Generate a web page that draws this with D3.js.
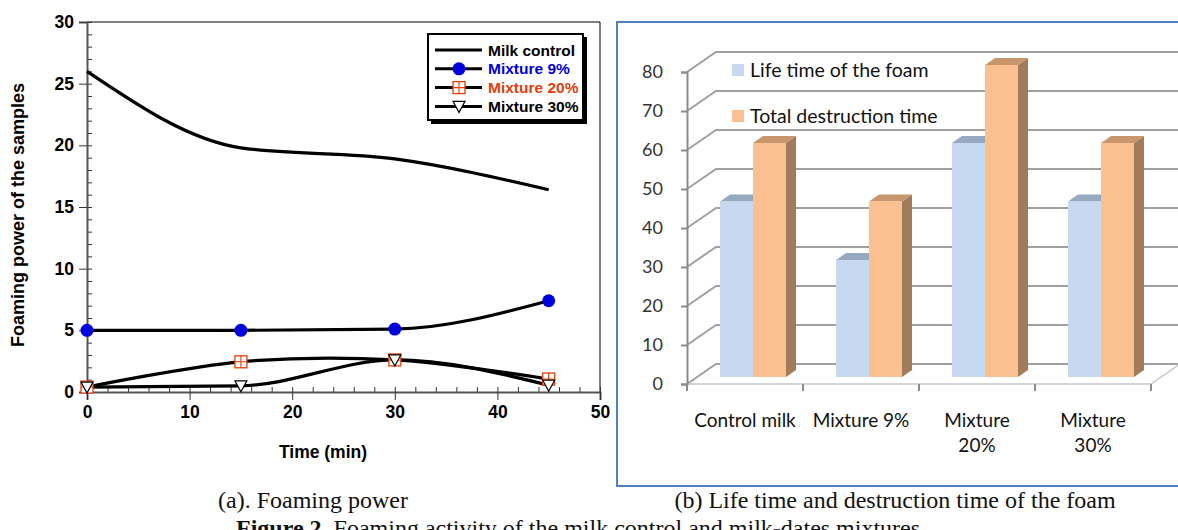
<!DOCTYPE html>
<html>
<head>
<meta charset="utf-8">
<script src="https://cdn.jsdelivr.net/npm/d3@7"></script>
<style>
  body { margin: 0; background: #fff; }
  svg { display: block; }
  .lt text { font-family: "Liberation Sans", Arial, sans-serif; font-weight: bold; }
  .rt text { font-family: Lato, "Open Sans", sans-serif; }
  .cap { font-family: "Liberation Serif", serif; font-size: 24px; fill: #111; }
</style>
</head>
<body>
<svg width="1178" height="530"></svg>
<script>
// ---- panel (a) data
var times = [0, 15, 30, 45];
var milkControl = [26, 19.8, 18.9, 16.4];
var mix9 = [5, 5, 5.1, 7.4];
var mix20 = [0.4, 2.45, 2.6, 1.05];
var mix30 = [0.4, 0.5, 2.6, 0.55];
var xTicks = [0, 10, 20, 30, 40, 50];
var yTicks = [0, 5, 10, 15, 20, 25, 30];

// ---- panel (b) data
var categories = [["Control milk"], ["Mixture 9%"], ["Mixture", "20%"], ["Mixture", "30%"]];
var lifeTime = [45, 30, 60, 45];
var destructionTime = [60, 45, 80, 60];
var barTicks = [0, 10, 20, 30, 40, 50, 60, 70, 80];

var svg = d3.select("svg");

// =============== (a) Foaming power ===============
var left = svg.append("g").attr("class", "lt");

var x = d3.scaleLinear().domain([0, 50]).range([87, 600]);
var y = d3.scaleLinear().domain([0, 30]).range([392, 22]);

// frame
left.append("path")
	.attr("d", "M" + x(0) + "," + y(30) + "H" + x(50) + "V" + y(0))
	.attr("fill", "none").attr("stroke", "#000").attr("stroke-width", 1);

// minor ticks (inward)
left.append("g")
	.attr("transform", "translate(" + x(0) + ",0)")
	.call(d3.axisRight(y).tickValues(d3.range(0, 31, 1)).tickSize(5).tickFormat(""))
	.call(function(g) { g.select(".domain").remove(); g.selectAll("line").attr("stroke", "#333"); });
left.append("g")
	.attr("transform", "translate(0," + y(0) + ")")
	.call(d3.axisTop(x).tickValues(d3.range(0, 51, 2)).tickSize(5).tickFormat(""))
	.call(function(g) { g.select(".domain").remove(); g.selectAll("line").attr("stroke", "#333"); });

// major axes
var yAx = left.append("g")
	.attr("transform", "translate(" + x(0) + ",0)")
	.call(d3.axisLeft(y).tickValues(yTicks).tickSize(8).tickPadding(5));
var xAx = left.append("g")
	.attr("transform", "translate(0," + y(0) + ")")
	.call(d3.axisBottom(x).tickValues(xTicks).tickSize(8).tickPadding(6));
[yAx, xAx].forEach(function(g) {
	g.select(".domain").attr("stroke", "#555").attr("stroke-width", 2);
	g.selectAll("line").attr("stroke", "#333");
	g.selectAll("text").attr("font-size", 17.5).attr("fill", "#000")
		.attr("font-family", "Liberation Sans, Arial, sans-serif").attr("font-weight", "bold");
});

left.append("text")
	.attr("transform", "translate(24,215) rotate(-90)")
	.attr("text-anchor", "middle")
	.attr("font-size", 18)
	.text("Foaming power of the samples");
left.append("text")
	.attr("x", 323).attr("y", 458)
	.attr("text-anchor", "middle")
	.attr("font-size", 17.5)
	.text("Time (min)");

var series = [
	{ name: "Milk control", values: milkControl, color: "#000", marker: "none", curve: d3.curveMonotoneX },
	{ name: "Mixture 9%", values: mix9, color: "#0000dd", marker: "circle", curve: d3.curveMonotoneX },
	{ name: "Mixture 20%", values: mix20, color: "#e0400c", marker: "square", curve: d3.curveCatmullRom },
	{ name: "Mixture 30%", values: mix30, color: "#000", marker: "triangle", curve: d3.curveMonotoneX }
];

series.forEach(function(s) {
	var line = d3.line()
		.x(function(d, i) { return x(times[i]); })
		.y(function(d) { return y(d); })
		.curve(s.curve);
	left.append("path")
		.attr("d", line(s.values))
		.attr("fill", "none")
		.attr("stroke", "#000")
		.attr("stroke-width", 3.2);
});

function drawMarker(g, type, cx, cy) {
	if (type === "circle") {
		g.append("circle").attr("cx", cx).attr("cy", cy).attr("r", 6.5).attr("fill", "#0000dd");
	} else if (type === "square") {
		g.append("rect").attr("x", cx - 6).attr("y", cy - 6).attr("width", 12).attr("height", 12)
			.attr("fill", "#fff").attr("stroke", "#e0400c").attr("stroke-width", 1.3);
		g.append("path").attr("d", "M" + (cx - 6) + "," + cy + "h12M" + cx + "," + (cy - 6) + "v12")
			.attr("stroke", "#e0400c").attr("stroke-width", 1.1);
	} else if (type === "triangle") {
		g.append("path")
			.attr("d", "M" + (cx - 6) + "," + (cy - 5) + "h12L" + cx + "," + (cy + 6) + "Z")
			.attr("fill", "#fff").attr("stroke", "#000").attr("stroke-width", 1.2);
	}
}

series.forEach(function(s) {
	if (s.marker === "none") return;
	var mg = left.append("g");
	s.values.forEach(function(v, i) { drawMarker(mg, s.marker, x(times[i]), y(v)); });
});

// legend
var lg = left.append("g");
lg.append("rect").attr("x", 431).attr("y", 37).attr("width", 156).attr("height", 87).attr("fill", "#000");
lg.append("rect").attr("x", 428).attr("y", 34).attr("width", 155).attr("height", 86)
	.attr("fill", "#fff").attr("stroke", "#000").attr("stroke-width", 2);
series.forEach(function(s, i) {
	var ly = 50 + i * 18.8;
	lg.append("line").attr("x1", 435).attr("x2", 482).attr("y1", ly).attr("y2", ly)
		.attr("stroke", "#000").attr("stroke-width", 3);
	drawMarker(lg, s.marker, 459, ly);
	lg.append("text").attr("x", 488).attr("y", ly + 5.5)
		.attr("font-size", 15.5).attr("fill", s.color).text(s.name);
});

// =============== (b) Life time / destruction time ===============
var right = svg.append("g").attr("class", "rt");

right.append("rect")
	.attr("x", 617).attr("y", 22).attr("width", 620).attr("height", 464)
	.attr("fill", "none").attr("stroke", "#4f81bd").attr("stroke-width", 2);

var yR = d3.scaleLinear().domain([0, 80]).range([384, 72]);
var xR = d3.scaleBand().domain(categories.map(function(c) { return c.join(" "); })).range([687, 1151]);
var inner = d3.scaleBand().domain(["life", "total"]).range([33, 99]);
var wallDx = 29, wallDy = -20;
var barDx = 10, barDy = -7, barShift = -7;

// gridlines with wall
right.append("g").selectAll("path")
	.data(barTicks)
	.enter().append("path")
	.attr("d", function(d) {
		return "M" + 687 + "," + yR(d) + "l" + wallDx + "," + wallDy + "H1180";
	})
	.attr("fill", "none").attr("stroke", "#a0a0a0").attr("stroke-width", 2);

// floor front edge
right.append("path")
	.attr("d", "M687," + yR(0) + "H1151l" + wallDx + "," + wallDy)
	.attr("fill", "none").attr("stroke", "#c8c8c8").attr("stroke-width", 1.5);

// value axis
var yRAx = right.append("g")
	.attr("transform", "translate(687,0)")
	.call(d3.axisLeft(yR).tickValues(barTicks).tickSize(6).tickPadding(18));
yRAx.select(".domain").attr("stroke", "#8c8c8c").attr("stroke-width", 2);
yRAx.selectAll("line").attr("stroke", "#8c8c8c").attr("stroke-width", 2);
yRAx.selectAll("text").attr("font-size", 18).attr("fill", "#333").attr("font-family", "Lato, sans-serif");

// category ticks
right.append("g").selectAll("line")
	.data(xR.domain().concat(["end"]))
	.enter().append("line")
	.attr("x1", function(d) { return d === "end" ? 1151 : xR(d); })
	.attr("x2", function(d) { return d === "end" ? 1151 : xR(d); })
	.attr("y1", yR(0)).attr("y2", yR(0) + 7)
	.attr("stroke", "#8c8c8c").attr("stroke-width", 2);

var barSeries = [
	{ key: "life", values: lifeTime, front: "#c6d9f1", top: "#97a9c0", side: "#8c9db3" },
	{ key: "total", values: destructionTime, front: "#fac090", top: "#c8956c", side: "#a27b5a" }
];

barSeries.forEach(function(s) {
	var g = right.append("g");
	s.values.forEach(function(v, i) {
		var x0 = xR(xR.domain()[i]) + inner(s.key);
		var w = inner.bandwidth();
		var base = yR(0) + barShift;
		var top = yR(v) + barShift;
		g.append("path")
			.attr("d", "M" + (x0 + w) + "," + top + "l" + barDx + "," + barDy + "V" + (base + barDy) + "l" + (-barDx) + "," + (-barDy) + "Z")
			.attr("fill", s.side);
		g.append("path")
			.attr("d", "M" + x0 + "," + top + "l" + barDx + "," + barDy + "h" + w + "l" + (-barDx) + "," + (-barDy) + "Z")
			.attr("fill", s.top);
		g.append("rect")
			.attr("x", x0).attr("y", top).attr("width", w).attr("height", base - top)
			.attr("fill", s.front);
	});
});

// category labels
right.append("g").selectAll("text")
	.data(categories)
	.enter().append("text")
	.attr("text-anchor", "middle")
	.attr("font-size", 19)
	.attr("fill", "#111")
	.attr("transform", function(d) { return "translate(" + (xR(d.join(" ")) + xR.bandwidth() / 2) + ",427)"; })
	.selectAll("tspan")
	.data(function(d) { return d; })
	.enter().append("tspan")
	.attr("x", 0)
	.attr("y", function(d, i) { return i * 25; })
	.text(function(d) { return d; });

// legend
var legendItems = [
	{ label: "Life time of the foam", color: "#c6d9f1", y: 64 },
	{ label: "Total destruction time", color: "#fac090", y: 110 }
];
legendItems.forEach(function(l) {
	right.append("rect").attr("x", 732).attr("y", l.y).attr("width", 12).attr("height", 12).attr("fill", l.color);
	right.append("text").attr("x", 750).attr("y", l.y + 13)
		.attr("font-size", 19.5).attr("fill", "#111").text(l.label);
});

// =============== captions ===============
svg.append("text").attr("class", "cap").attr("x", 313).attr("y", 508)
	.attr("text-anchor", "middle").text("(a). Foaming power");
svg.append("text").attr("class", "cap").attr("x", 895).attr("y", 508)
	.attr("text-anchor", "middle").text("(b) Life time and destruction time of the foam");
var fig = svg.append("text").attr("class", "cap").attr("x", 236).attr("y", 536);
fig.append("tspan").attr("font-weight", "bold").text("Figure 2");
fig.append("tspan").text(". Foaming activity of the milk control and milk-dates mixtures");
</script>
</body>
</html>
